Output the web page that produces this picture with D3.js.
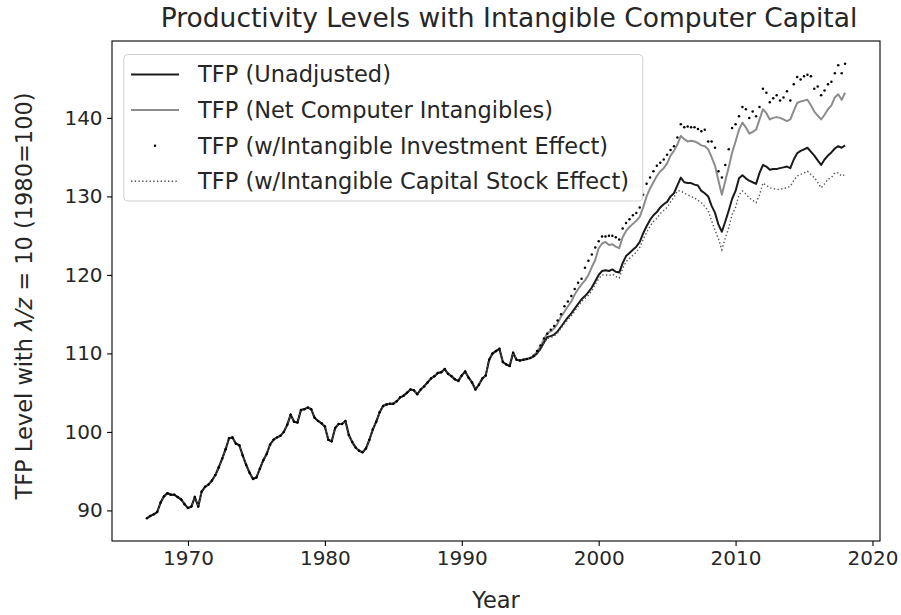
<!DOCTYPE html>
<html>
<head>
<meta charset="utf-8">
<script src="https://cdn.jsdelivr.net/npm/d3@7"></script>
<style>
  body { margin: 0; background: #fff; }
  svg { font-family: "DejaVu Sans", sans-serif; fill: #262626; }
</style>
</head>
<body>
<div id="chart"></div>
<script>

let width = 901
let height = 615
let margin = {top: 41, right: 21, bottom: 74, left: 112}

// quarterly observations, 1967Q1 .. 2018Q1
let firstYear = 1967
let quarters = d3.range(205).map(i => firstYear + i / 4)

let tfpUnadjusted = [
  89.0, 89.3, 89.5, 89.8,   91.0, 91.8, 92.2, 92.0,   92.0, 91.7, 91.4, 90.8,
  90.3, 90.5, 91.7, 90.5,   92.4, 93.0, 93.3, 93.8,   94.5, 95.5, 96.6, 97.8,
  99.2, 99.3, 98.5, 98.3,   97.0, 95.8, 94.8, 94.0,   94.2, 95.3, 96.4, 97.2,
  98.4, 99.0, 99.3, 99.5,   100.0, 100.9, 102.2, 101.3, 101.2, 102.8, 102.9, 103.1,
  102.9, 101.8, 101.4, 101.1, 100.7, 99.0, 98.8, 100.5, 101.0, 101.0, 101.4, 99.6,
  98.7, 98.0, 97.6, 97.4,   97.9, 99.0, 100.3, 101.3, 102.5, 103.3, 103.5, 103.6,
  103.6, 103.9, 104.4, 104.6, 105.0, 105.4, 105.3, 104.8, 105.4, 105.8, 106.3, 106.8,
  107.1, 107.5, 107.6, 108.0, 107.4, 107.1, 106.7, 106.5, 107.2, 107.7, 106.9, 106.3,
  105.4, 106.0, 106.8, 107.2, 109.2, 110.0, 110.3, 110.6, 108.9, 108.6, 108.4, 110.1,
  109.2, 109.1, 109.2, 109.3, 109.4, 109.6, 110.0, 110.6, 111.4, 112.1, 112.2, 112.4,
  112.8, 113.4, 114.0, 114.6, 115.1, 115.7, 116.3, 116.9, 117.3, 117.8, 118.4, 119.2,
  120.0, 120.5, 120.6, 120.5, 120.7, 120.4, 120.3, 121.5, 122.4, 122.8, 123.2, 123.6,
  124.2, 125.3, 126.2, 127.0, 127.6, 128.0, 128.6, 129.0, 129.3, 130.0, 130.4, 131.4,
  132.4, 131.8, 131.7, 131.7, 131.5, 131.4, 130.7, 130.4, 130.0, 128.8, 127.9, 126.4,
  125.5, 126.8, 128.2, 129.7, 130.7, 132.3, 132.7, 132.3, 132.0, 131.8, 131.6, 133.0,
  134.0, 133.8, 133.4, 133.5, 133.5, 133.6, 133.7, 133.8, 133.6, 134.7, 135.5, 135.8,
  136.0, 136.2, 135.7, 135.2, 134.6, 134.0, 134.7, 135.2, 135.6, 136.1, 136.4, 136.2,
  136.5
]

// the adjusted series only part from the unadjusted one from 1995Q1 on
let splitYear = 1995

let tfpNetIntangibles = [
  109.4, 109.7, 110.2, 110.9, 111.8, 112.6, 112.8, 113.2, 113.8, 114.7, 115.3, 116.0,
  116.6, 117.5, 118.2, 118.8, 119.3, 120.0, 121.0, 121.9, 123.4, 124.0, 124.2, 123.8,
  123.9, 123.6, 123.4, 124.8, 125.6, 126.1, 126.5, 126.9, 127.4, 128.6, 130.0, 131.0,
  131.8, 132.6, 133.2, 133.6, 134.2, 135.2, 135.8, 136.6, 137.7, 137.3, 137.0, 137.1,
  137.0, 136.8, 136.5, 136.4, 136.0, 135.0, 133.9, 132.0, 130.2, 132.0, 133.7, 135.6,
  137.0, 138.5, 139.4, 138.8, 138.0, 138.2, 138.5, 139.8, 141.1, 140.6, 139.8, 140.0,
  140.1, 140.0, 139.8, 139.6, 139.8, 140.9, 141.9, 142.1, 142.2, 142.3, 141.6, 140.8,
  140.3, 139.8, 140.4, 141.1, 141.6, 142.6, 143.0, 142.3, 143.2
]

let tfpInvestment = [
  109.4, 109.7, 110.3, 111.0, 111.9, 112.5, 113.0, 113.5, 114.2, 115.0, 116.0, 116.6,
  117.3, 118.2, 119.0, 119.5, 120.9, 121.8, 122.6, 123.5, 124.3, 124.9, 124.9, 125.0,
  125.0, 124.8, 124.5, 125.9, 126.6, 127.1, 127.6, 127.9, 128.6, 130.2, 131.6, 132.4,
  133.2, 133.9, 134.3, 134.7, 135.3, 135.9, 136.4, 137.5, 139.2, 138.8, 138.9, 138.8,
  138.8, 138.6, 138.3, 138.5, 137.0, 137.0, 136.2, 133.2, 132.4, 134.0, 136.0, 138.7,
  139.2, 140.2, 141.4, 141.1, 140.0, 140.8, 140.2, 141.4, 143.7, 143.2, 142.0, 142.5,
  142.9, 142.2, 142.6, 143.4, 142.2, 144.3, 145.2, 144.9, 145.3, 145.5, 145.3, 143.7,
  144.0, 142.9, 143.5, 144.3, 144.6, 145.7, 146.7, 145.7, 146.9
]

let tfpCapitalStock = [
  109.4, 109.6, 110.0, 110.5, 111.3, 111.9, 112.0, 112.2, 112.6, 113.2, 113.8, 114.3,
  114.8, 115.4, 116.0, 116.6, 117.0, 117.4, 118.0, 118.8, 119.5, 120.0, 120.0, 119.9,
  120.1, 119.8, 119.6, 120.8, 121.7, 122.1, 122.5, 122.9, 123.5, 124.5, 125.4, 126.2,
  126.8, 127.2, 127.8, 128.2, 128.6, 129.3, 129.9, 130.7, 130.7, 130.4, 130.2, 130.0,
  129.8, 129.5, 129.2, 128.7, 128.2, 126.9, 125.7, 124.6, 123.2, 124.7, 126.0, 127.7,
  128.6, 130.2, 130.7, 130.3, 129.8, 129.5, 129.2, 130.2, 131.7, 131.4, 131.1, 131.0,
  130.9, 130.9, 131.0, 131.1, 131.3, 132.0, 132.6, 132.8, 133.0, 133.2, 132.8, 132.4,
  131.8, 131.1, 131.6, 132.2, 132.4, 133.0, 133.0, 132.6, 132.8
]

let xTicks = [1970, 1980, 1990, 2000, 2010, 2020]
let yTicks = [90, 100, 110, 120, 130, 140]
let seriesNames = [
  'TFP (Unadjusted)',
  'TFP (Net Computer Intangibles)',
  'TFP (w/Intangible Investment Effect)',
  'TFP (w/Intangible Capital Stock Effect)'
]

// -- join the common early history onto the adjusted series
let splitIndex = (splitYear - firstYear) * 4
let early = tfpUnadjusted.slice(0, splitIndex)
let net = early.concat(tfpNetIntangibles)
let inv = early.concat(tfpInvestment)
let cap = early.concat(tfpCapitalStock)

let labelSize = 22.5
let tickSize = 20
let textColor = '#262626'

let svg = d3.select('#chart').append('svg')
  .attr('width', width)
  .attr('height', height)

let plotW = width - margin.left - margin.right
let plotH = height - margin.top - margin.bottom

// matplotlib style 5% padding
let xExt = d3.extent(quarters)
let xPad = (xExt[1] - xExt[0]) * 0.05
let allVals = tfpUnadjusted.concat(net, inv, cap)
let yExt = d3.extent(allVals)
let yPad = (yExt[1] - yExt[0]) * 0.05

let xScale = d3.scaleLinear().domain([xExt[0] - xPad, xExt[1] + xPad]).range([0, plotW])
let yScale = d3.scaleLinear().domain([yExt[0] - yPad, yExt[1] + yPad]).range([plotH, 0])

let g = svg.append('g').attr('transform', `translate(${margin.left},${margin.top})`)

let line = d3.line()
  .x((d, i) => xScale(quarters[i]))
  .y(d => yScale(d))

// -- Lines
g.append('path').datum(net)
  .attr('d', line)
  .attr('fill', 'none')
  .attr('stroke', '#8c8c8c')
  .attr('stroke-width', 2)
  .attr('stroke-linejoin', 'round')

g.append('path').datum(tfpUnadjusted)
  .attr('d', line)
  .attr('fill', 'none')
  .attr('stroke', '#1a1a1a')
  .attr('stroke-width', 2)
  .attr('stroke-linejoin', 'round')

g.append('path').datum(cap)
  .attr('d', line)
  .attr('fill', 'none')
  .attr('stroke', '#555')
  .attr('stroke-width', 1.4)
  .attr('stroke-dasharray', '1.4,2.3')

g.selectAll('circle.inv')
  .data(inv)
  .enter()
  .append('circle')
  .attr('class', 'inv')
  .attr('cx', (d, i) => xScale(quarters[i]))
  .attr('cy', d => yScale(d))
  .attr('r', 1.25)
  .attr('fill', '#000')

// -- Axes
let xAxis = d3.axisBottom(xScale).tickValues(xTicks).tickFormat(d3.format('d')).tickSize(4.9).tickPadding(4.5)
g.append('g')
  .attr('transform', `translate(0,${plotH})`)
  .call(xAxis)
  .call(a => a.select('.domain').remove())

let yAxis = d3.axisLeft(yScale).tickValues(yTicks).tickSize(4.9).tickPadding(4.5)
g.append('g')
  .call(yAxis)
  .call(a => a.select('.domain').remove())

g.selectAll('.tick text')
  .attr('font-size', tickSize)
  .attr('font-family', '"DejaVu Sans", sans-serif')
  .attr('fill', textColor)
g.selectAll('.tick line').attr('stroke', '#000').attr('stroke-width', 1.1)

// frame
g.append('rect')
  .attr('width', plotW)
  .attr('height', plotH)
  .attr('fill', 'none')
  .attr('stroke', '#000')
  .attr('stroke-width', 1.1)

// -- Titles
svg.append('text')
  .attr('x', 509)
  .attr('y', 27)
  .attr('text-anchor', 'middle')
  .attr('font-size', 26.5)
  .attr('fill', textColor)
  .text('Productivity Levels with Intangible Computer Capital')

svg.append('text')
  .attr('x', margin.left + plotW / 2)
  .attr('y', 608)
  .attr('text-anchor', 'middle')
  .attr('font-size', labelSize)
  .attr('fill', textColor)
  .text('Year')

let yLab = svg.append('text')
  .attr('transform', `translate(32,${margin.top + plotH / 2 + 5}) rotate(-90)`)
  .attr('text-anchor', 'middle')
  .attr('font-size', labelSize)
  .attr('fill', textColor)
yLab.append('tspan').text('TFP Level with ')
yLab.append('tspan').attr('font-style', 'italic').text('λ/z')
yLab.append('tspan').text(' = 10 (1980=100)')

// -- Legend
let legend = g.append('g').attr('transform', 'translate(11.8,13.5)')
legend.append('rect')
  .attr('width', 519)
  .attr('height', 146.5)
  .attr('rx', 4)
  .attr('fill', '#fff')
  .attr('fill-opacity', 0.8)
  .attr('stroke', '#d0d0d0')
  .attr('stroke-width', 1)

let rowY = d3.scalePoint().domain(seriesNames).range([20, 126.7])
seriesNames.forEach((name, i) => {
  let y = rowY(name)
  let item = legend.append('g').attr('transform', `translate(0,${y})`)
  if (i === 0 || i === 1) {
    item.append('line').attr('x1', 7.2).attr('x2', 55.2)
      .attr('stroke', i === 0 ? '#1a1a1a' : '#8c8c8c').attr('stroke-width', 2)
  } else if (i === 2) {
    item.append('circle').attr('cx', 31.2).attr('r', 1.25).attr('fill', '#000')
  } else {
    item.append('line').attr('x1', 7.2).attr('x2', 55.2)
      .attr('stroke', '#555').attr('stroke-width', 1.4).attr('stroke-dasharray', '1.4,2.3')
  }
  item.append('text')
    .attr('x', 74.2)
    .attr('dy', '0.35em')
    .attr('font-size', labelSize)
    .attr('fill', textColor)
    .text(name)
})

</script>
</body>
</html>
